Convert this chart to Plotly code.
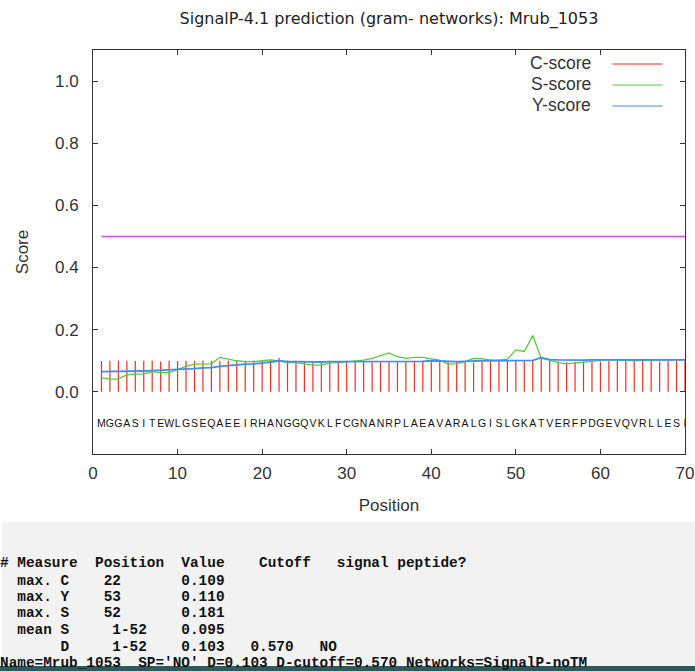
import plotly.graph_objects as go

# ---------------- data ----------------
sequence = "MGGASITEWLGSEQAEEIRHANGGQVKLFCGNANRPLAEAVARALGISLGKATVERFPDGEVQVRLLESI"
positions = [i + 1 for i in range(len(sequence))]

c_score = [0.099, 0.100, 0.100, 0.100, 0.099, 0.100, 0.100, 0.098, 0.100, 0.099,
           0.100, 0.100, 0.101, 0.100, 0.100, 0.101, 0.100, 0.100, 0.101, 0.102,
           0.103, 0.109, 0.101, 0.100, 0.099, 0.098, 0.099, 0.100, 0.099, 0.100,
           0.100, 0.099, 0.098, 0.099, 0.098, 0.097, 0.098, 0.099, 0.100, 0.100,
           0.099, 0.095, 0.096, 0.097, 0.094, 0.098, 0.099, 0.099, 0.100, 0.099,
           0.100, 0.103, 0.106, 0.100, 0.098, 0.095, 0.097, 0.098, 0.099, 0.098,
           0.099, 0.100, 0.099, 0.099, 0.100, 0.099, 0.098, 0.099, 0.100, 0.100]

s_score = [0.046, 0.041, 0.041, 0.055, 0.057, 0.058, 0.065, 0.062, 0.062, 0.072,
           0.082, 0.089, 0.089, 0.090, 0.111, 0.105, 0.100, 0.097, 0.097, 0.100,
           0.103, 0.100, 0.094, 0.094, 0.089, 0.086, 0.086, 0.093, 0.094, 0.097,
           0.100, 0.102, 0.108, 0.116, 0.125, 0.113, 0.108, 0.111, 0.111, 0.106,
           0.102, 0.089, 0.091, 0.097, 0.108, 0.107, 0.102, 0.102, 0.105, 0.135,
           0.130, 0.181, 0.108, 0.102, 0.094, 0.090, 0.093, 0.097, 0.100, 0.102,
           0.104, 0.103, 0.101, 0.100, 0.101, 0.102, 0.103, 0.104, 0.104, 0.104]

y_score = [0.065, 0.065, 0.065, 0.065, 0.065, 0.067, 0.068, 0.069, 0.070, 0.071,
           0.073, 0.075, 0.077, 0.078, 0.082, 0.085, 0.088, 0.089, 0.090, 0.092,
           0.096, 0.100, 0.097, 0.097, 0.096, 0.096, 0.096, 0.097, 0.097, 0.097,
           0.097, 0.097, 0.097, 0.097, 0.097, 0.096, 0.097, 0.098, 0.098, 0.100,
           0.099, 0.097, 0.097, 0.098, 0.100, 0.100, 0.100, 0.100, 0.100, 0.100,
           0.100, 0.101, 0.110, 0.104, 0.103, 0.102, 0.102, 0.102, 0.103, 0.103,
           0.103, 0.103, 0.103, 0.102, 0.102, 0.102, 0.103, 0.103, 0.103, 0.103]

cutoff_line = 0.5
y_ticks = [0.0, 0.2, 0.4, 0.6, 0.8, 1.0]
x_ticks = [0, 10, 20, 30, 40, 50, 60, 70]
legend_names = ["C-score", "S-score", "Y-score"]

title_text = "SignalP-4.1 prediction (gram- networks): Mrub_1053"
summary_lines = [
    "# Measure  Position  Value    Cutoff   signal peptide?",
    "  max. C    22       0.109",
    "  max. Y    53       0.110",
    "  max. S    52       0.181",
    "  mean S     1-52    0.095",
    "       D     1-52    0.103   0.570   NO",
    "Name=Mrub_1053  SP='NO' D=0.103 D-cutoff=0.570 Networks=SignalP-noTM",
]

# ---------------- styles / layout geometry ----------------
RED, GREEN, BLUE, PURPLE = "#ff2a1f", "#55cc3a", "#3d8ff0", "#c84cf7"
FW, FH = 695, 671
PL, PR, PT, PB = 93, 685, 50, 454
W, H = PR - PL, PB - PT


def px(xp):
    return (xp - PL) / W


def py(yp):
    return (PB - yp) / H


fig = go.Figure()

# C-score impulses
imp_x, imp_y = [], []
for p, c in zip(positions, c_score):
    imp_x += [p, p, None]
    imp_y += [0, c, None]
fig.add_trace(go.Scatter(x=imp_x, y=imp_y, mode="lines",
                         line=dict(color=RED, width=1.2), hoverinfo="skip",
                         showlegend=False))
fig.add_trace(go.Scatter(x=positions, y=s_score, mode="lines",
                         line=dict(color=GREEN, width=1.3), showlegend=False))
fig.add_trace(go.Scatter(x=positions, y=y_score, mode="lines",
                         line=dict(color=BLUE, width=1.8), showlegend=False))
fig.add_trace(go.Scatter(x=[positions[0], positions[-1]], y=[cutoff_line, cutoff_line],
                         mode="lines", line=dict(color=PURPLE, width=1.6),
                         showlegend=False, hoverinfo="skip"))
# sequence letters
fig.add_trace(go.Scatter(x=positions, y=[-0.105] * len(positions), mode="text",
                         text=list(sequence),
                         textfont=dict(family="Liberation Sans", size=10.5, color="#111"),
                         showlegend=False, hoverinfo="skip"))

shapes = []
annotations = []

# manual gnuplot-style legend
legend_colors = [RED, GREEN, BLUE]
legend_rows = [63, 84, 105]
for name, col, yr in zip(legend_names, legend_colors, legend_rows):
    annotations.append(dict(x=px(593), y=py(yr), xref="paper", yref="paper",
                            xanchor="right", yanchor="middle", showarrow=False,
                            text=name, font=dict(family="Liberation Sans", size=17.5, color="#333")))
    shapes.append(dict(type="line", xref="paper", yref="paper",
                       x0=px(612.5), x1=px(662.5), y0=py(yr + 1), y1=py(yr + 1),
                       line=dict(color=col, width=1.2)))

# bottom text panel
shapes.append(dict(type="rect", xref="paper", yref="paper", layer="below",
                   x0=px(2), x1=px(FW + 2), y0=py(522), y1=py(666),
                   fillcolor="#f2f2f2", line=dict(width=0)))
shapes.append(dict(type="rect", xref="paper", yref="paper", layer="above",
                   x0=px(-2), x1=px(FW + 2), y0=py(666), y1=py(FH + 2),
                   fillcolor="#2f5a5c", line=dict(width=0)))
line_rows = [563, 580.5, 597, 613, 629.5, 646.5, 663]
for txt, yr in zip(summary_lines, line_rows):
    annotations.append(dict(x=px(-2), y=py(yr), xref="paper", yref="paper",
                            xanchor="left", yanchor="middle", showarrow=False,
                            text=txt.replace(" ", "\u00a0"),
                            font=dict(family="Liberation Mono", size=14.4, color="#111",
                                      weight="bold")))

axis_common = dict(showline=True, linecolor="#333", linewidth=1, mirror="ticks",
                   ticks="inside", ticklen=5, tickwidth=1, tickcolor="#333",
                   showgrid=False, zeroline=False,
                   tickfont=dict(family="Liberation Sans", size=17, color="#333"))

fig.update_layout(
    width=FW, height=FH,
    margin=dict(l=PL, r=FW - PR, t=PT, b=FH - PB, autoexpand=False),
    paper_bgcolor="white", plot_bgcolor="white",
    title=dict(text=title_text, x=0.5, xref="paper", y=1 - 18 / FH, yref="container",
               xanchor="center", yanchor="middle",
               font=dict(family="DejaVu Sans", size=16, color="#222")),
    xaxis=dict(range=[0, 70], tickvals=x_ticks, ticklabelstandoff=4,
               title=dict(text="Position", standoff=16,
                          font=dict(family="Liberation Sans", size=17, color="#333")),
               **axis_common),
    yaxis=dict(range=[-0.2, 1.1], tickvals=y_ticks,
               ticktext=[f"{v:.1f}" for v in y_ticks], ticklabelstandoff=10,
               title=dict(text="Score", standoff=22,
                          font=dict(family="Liberation Sans", size=17, color="#333")),
               **axis_common),
    shapes=shapes, annotations=annotations,
)

fig.write_html("out.html", config={"displayModeBar": False},
               post_script="document.body.style.margin='0';document.body.style.overflow='hidden';")
